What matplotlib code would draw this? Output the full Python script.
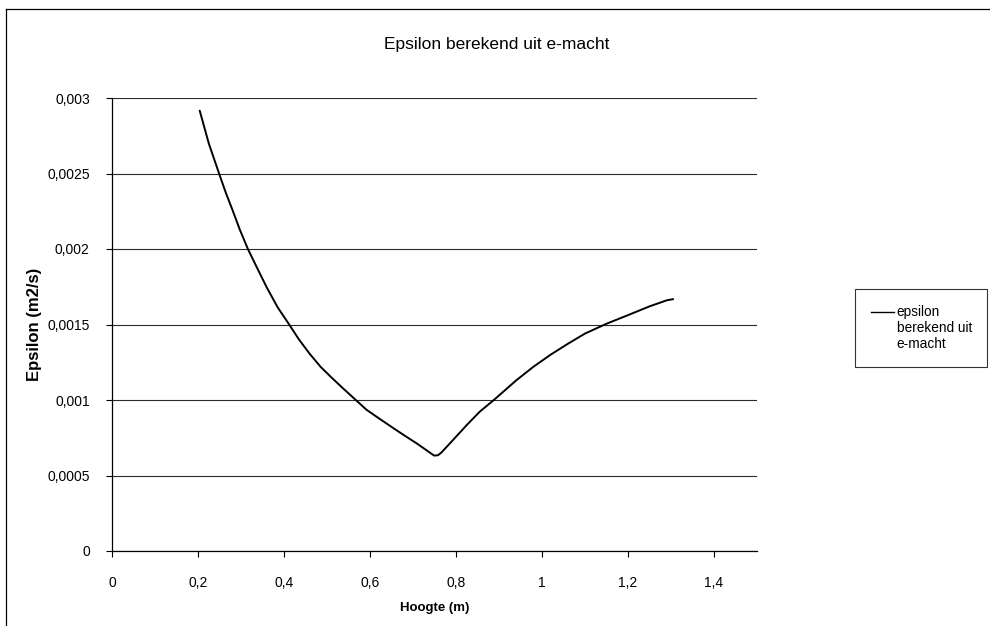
import matplotlib
matplotlib.use("Agg")
import matplotlib.pyplot as plt
from matplotlib.lines import Line2D

plt.rcParams['font.family'] = ['Liberation Sans', 'DejaVu Sans']

# Data
hoogte = [0.204, 0.225, 0.249, 0.265, 0.280, 0.297, 0.316, 0.340, 0.360, 0.385,
          0.412, 0.435, 0.460, 0.485, 0.510, 0.540, 0.567, 0.592, 0.620, 0.650,
          0.680, 0.710, 0.731, 0.749, 0.758, 0.766, 0.794, 0.825, 0.855, 0.890,
          0.940, 0.980, 1.020, 1.060, 1.100, 1.150, 1.200, 1.250, 1.290, 1.305]
epsilon = [0.002916, 0.002700, 0.002500, 0.002370, 0.002260, 0.002130, 0.002000,
           0.001860, 0.001745, 0.001615, 0.001500, 0.001400, 0.001305, 0.001220,
           0.001150, 0.001070, 0.001000, 0.000935, 0.000880, 0.000822, 0.000765,
           0.000710, 0.000668, 0.000632, 0.000634, 0.000652, 0.000738, 0.000834,
           0.000922, 0.001005, 0.001130, 0.001220, 0.001300, 0.001372, 0.001440,
           0.001505, 0.001562, 0.001620, 0.001660, 0.001668]

x_ticks = [0, 0.2, 0.4, 0.6, 0.8, 1.0, 1.2, 1.4]
x_ticklabels = ['0', '0,2', '0,4', '0,6', '0,8', '1', '1,2', '1,4']
y_ticks = [0, 0.0005, 0.001, 0.0015, 0.002, 0.0025, 0.003]
y_ticklabels = ['0', '0,0005', '0,001', '0,0015', '0,002', '0,0025', '0,003']

title = 'Epsilon berekend uit e-macht'
xlabel = 'Hoogte (m)'
ylabel = 'Epsilon (m2/s)'
series_label = 'epsilon\nberekend uit\ne-macht'

W, H = 990, 626
fig = plt.figure(figsize=(W / 100, H / 100), dpi=100)
fig.patch.set_facecolor('white')

left, right, top, bottom = 112, 757, 98, 551
ax = fig.add_axes([left / W, 1 - bottom / H, (right - left) / W, (bottom - top) / H])

ax.plot(hoogte, epsilon, color='black', lw=1.4, solid_joinstyle='round',
        solid_capstyle='round')

ax.set_xlim(0, 1.5)
ax.set_ylim(0, 0.003)
ax.set_xticks(x_ticks)
ax.set_xticklabels(x_ticklabels)
ax.set_yticks(y_ticks)
ax.set_yticklabels(y_ticklabels)
ax.tick_params(axis='both', labelsize=10, length=4, width=0.8, color='black',
               direction='out')
ax.tick_params(axis='y', pad=12)
ax.tick_params(axis='x', pad=14)
ax.grid(axis='y', color='#2a2a2a', lw=0.8)
ax.set_axisbelow(True)
for s in ['top', 'right']:
    ax.spines[s].set_visible(False)
for s in ['left', 'bottom']:
    ax.spines[s].set_linewidth(0.9)
    ax.spines[s].set_color('black')

ax.set_xlabel(xlabel, fontsize=9.5, fontweight='bold', labelpad=9)
ax.set_ylabel(ylabel, fontsize=12, fontweight='bold', labelpad=4)

fig.text(497 / W, 1 - 45 / H, title, ha='center', va='center', fontsize=12.5)

handle = Line2D([], [], color='black', lw=1.0)
leg = fig.legend([handle], [series_label], loc='upper left',
                 bbox_to_anchor=(855 / W, 1 - 289 / H), borderaxespad=0,
                 fancybox=False, frameon=True, edgecolor='black', fontsize=9.8,
                 handlelength=1.7, handletextpad=0.2, borderpad=1.15)
leg.get_frame().set_linewidth(0.8)
# put the legend line next to the first text line, as in the reference
for ln in leg.get_lines():
    yd = ln.get_ydata()
    ln.set_ydata([y + 12 for y in yd])

# chart-area border (top and left edges visible in the scan)
fig.add_artist(Line2D([6 / W, 6 / W], [0, 1 - 9 / H], transform=fig.transFigure,
                      color='black', lw=0.9))
fig.add_artist(Line2D([6 / W, 1], [1 - 9 / H, 1 - 9 / H], transform=fig.transFigure,
                      color='black', lw=0.9))

fig.savefig('out.png', dpi=100)
